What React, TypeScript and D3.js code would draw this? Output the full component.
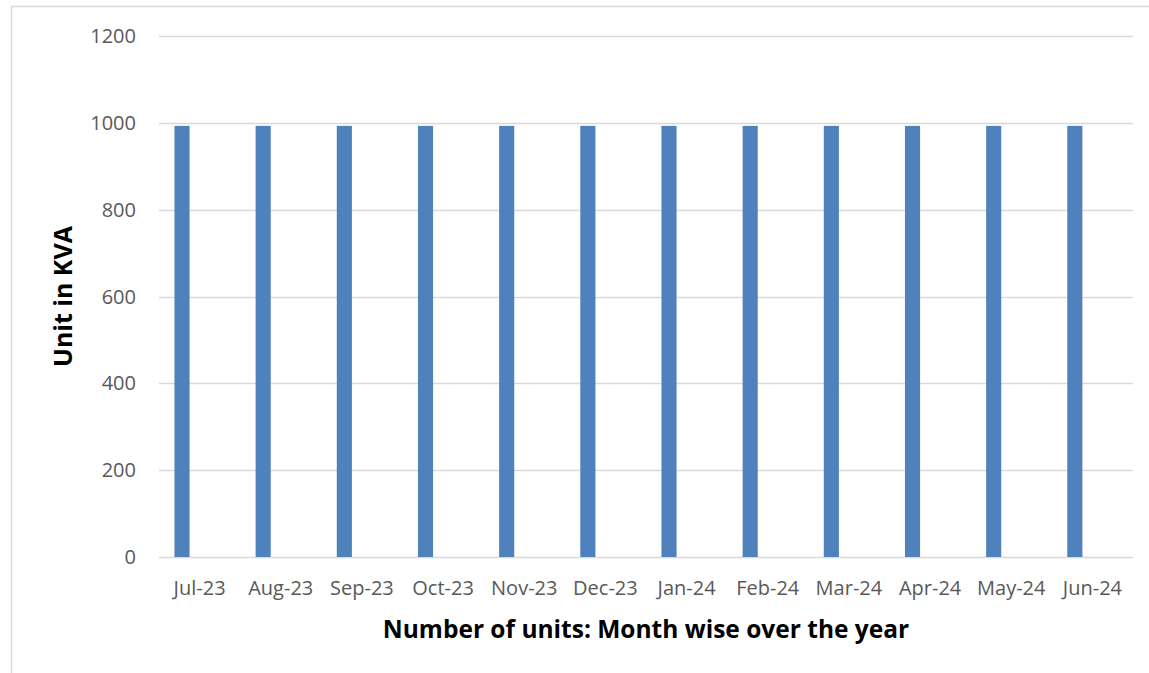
import * as d3 from 'd3';
import { useEffect, useRef } from 'react';

// Data
const months = [
  'Jul-23', 'Aug-23', 'Sep-23', 'Oct-23', 'Nov-23', 'Dec-23',
  'Jan-24', 'Feb-24', 'Mar-24', 'Apr-24', 'May-24', 'Jun-24',
];
const kvaValues = [993, 993, 993, 993, 993, 993, 993, 993, 993, 993, 993, 993];
// second slot in each cluster is left empty in the original chart
const seriesNames = ['Unit in KVA', 'Blank'];
const yTicks = [0, 200, 400, 600, 800, 1000, 1200];

const width = 1149;
const height = 673;
const margin = { top: 36, right: 16, bottom: 116, left: 159 };

export default function App() {
  const chartRef = useRef<SVGSVGElement | null>(null);

  useEffect(() => {
    const svg = d3.select(chartRef.current);
    svg.selectAll('*').remove();

    const font = "'Open Sans', sans-serif";

    // chart frame (runs off the page at right and bottom)
    svg
      .append('rect')
      .attr('x', 11.5)
      .attr('y', 6.5)
      .attr('width', width + 50)
      .attr('height', height + 50)
      .attr('fill', 'white')
      .attr('stroke', '#d9d9d9')
      .attr('stroke-width', 1.5);

    const xScale = d3
      .scaleBand<string>()
      .domain(months)
      .range([margin.left, width - margin.right])
      .padding(0);

    const inner = d3
      .scaleBand<string>()
      .domain(seriesNames)
      .range([0, xScale.bandwidth()])
      .paddingInner(0.57)
      .paddingOuter(0.44);

    const yScale = d3
      .scaleLinear()
      .domain([0, 1200])
      .range([height - margin.bottom, margin.top]);

    // gridlines
    svg
      .append('g')
      .selectAll('line')
      .data(yTicks)
      .enter()
      .append('line')
      .attr('x1', margin.left)
      .attr('x2', width - margin.right)
      .attr('y1', (d) => Math.round(yScale(d)) + 0.5)
      .attr('y2', (d) => Math.round(yScale(d)) + 0.5)
      .attr('stroke', '#d9d9d9')
      .attr('stroke-width', 1.5);

    // y tick labels
    svg
      .append('g')
      .selectAll('text')
      .data(yTicks)
      .enter()
      .append('text')
      .attr('x', margin.left - 23)
      .attr('y', (d) => yScale(d))
      .attr('dy', '0.35em')
      .attr('text-anchor', 'end')
      .attr('fill', '#595959')
      .style('font-family', font)
      .style('font-size', '20px')
      .text((d) => d);

    // bars
    svg
      .append('g')
      .selectAll('rect')
      .data(kvaValues)
      .enter()
      .append('rect')
      .attr('x', (d, i) => (xScale(months[i]) as number) + (inner(seriesNames[0]) as number))
      .attr('y', (d) => yScale(d))
      .attr('width', inner.bandwidth())
      .attr('height', (d) => yScale(0) - yScale(d))
      .attr('fill', '#4f81bd');

    // x tick labels
    svg
      .append('g')
      .selectAll('text')
      .data(months)
      .enter()
      .append('text')
      .attr('x', (d) => (xScale(d) as number) + xScale.bandwidth() / 2)
      .attr('y', height - margin.bottom + 38)
      .attr('text-anchor', 'middle')
      .attr('fill', '#595959')
      .style('font-family', font)
      .style('font-size', '20px')
      .text((d) => d);

    // axis titles
    svg
      .append('text')
      .attr('x', (margin.left + width - margin.right) / 2)
      .attr('y', height - margin.bottom + 81)
      .attr('text-anchor', 'middle')
      .attr('fill', 'black')
      .style('font-family', font)
      .style('font-size', '24.5px')
      .style('font-weight', 700)
      .text('Number of units: Month wise over the year');

    svg
      .append('text')
      .attr(
        'transform',
        `translate(72, ${(margin.top + height - margin.bottom) / 2}) rotate(-90)`,
      )
      .attr('text-anchor', 'middle')
      .attr('fill', 'black')
      .style('font-family', font)
      .style('font-size', '25px')
      .style('font-weight', 700)
      .text('Unit in KVA');
  }, []);

  return (
    <svg
      ref={chartRef}
      width={width}
      height={height}
      style={{ position: 'absolute', left: 0, top: 0, background: 'white' }}
    />
  );
}
